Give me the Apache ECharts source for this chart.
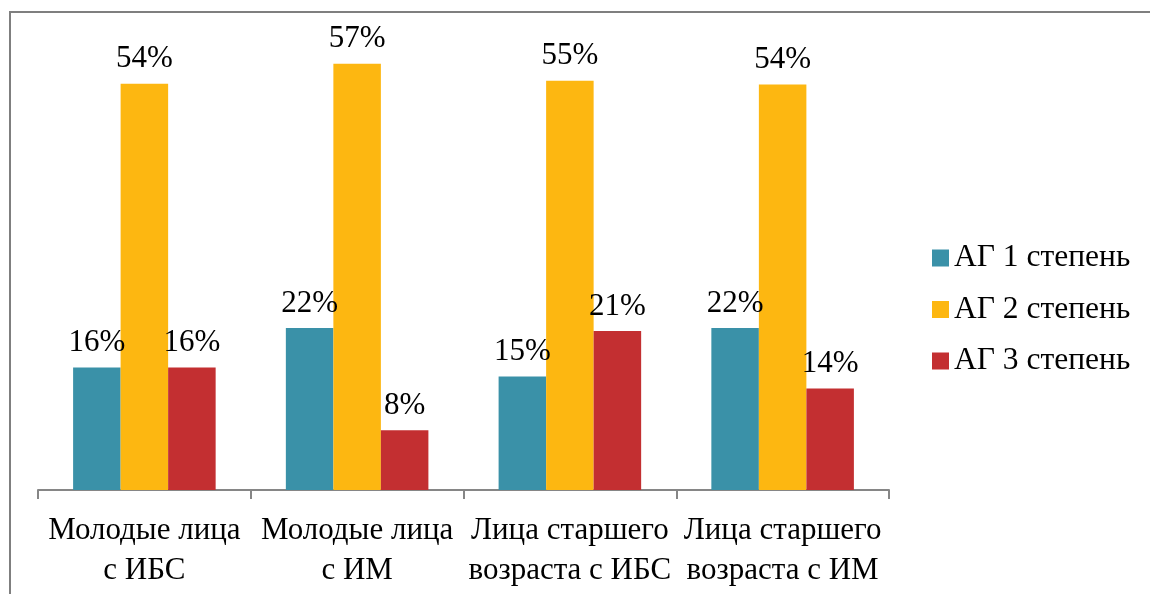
<!DOCTYPE html>
<html>
<head>
<meta charset="utf-8">
<script src="https://cdn.jsdelivr.net/npm/echarts@6/dist/echarts.min.js"></script>
<style>
html,body{margin:0;padding:0;background:#fff;}
#c{width:1150px;height:594px;}
</style>
</head>
<body>
<div id="c"></div>
<script>
const categories = ["Молодые лица\nс ИБС", "Молодые лица\nс ИМ", "Лица старшего\nвозраста с ИБС", "Лица старшего\nвозраста с ИМ"];
const seriesNames = ["АГ 1 степень", "АГ 2 степень", "АГ 3 степень"];
const ag1 = [16.4, 21.7, 15.2, 21.7];
const ag2 = [54.4, 57.1, 54.8, 54.3];
const ag3 = [16.4, 8.0, 21.3, 13.6];
const colors = ["#3A91A8", "#FDB711", "#C32F31"];

const font = "'Liberation Serif', 'DejaVu Serif', serif";
const chart = echarts.init(document.getElementById('c'));
const mk = (name, data, color) => ({
  name: name,
  type: 'bar',
  data: data,
  barGap: '0%',
  barCategoryGap: '33%',
  itemStyle: { color: color },
  label: {
    show: true,
    position: 'top',
    distance: 9,
    color: '#000',
    fontFamily: font,
    fontSize: 31,
    formatter: p => Math.round(p.value) + '%'
  }
});
chart.setOption({
  animation: false,
  backgroundColor: '#fff',
  graphic: [{
    type: 'rect',
    shape: { x: 10, y: 12, width: 1300, height: 800 },
    style: { fill: 'none', stroke: '#7f7f7f', lineWidth: 2 },
    silent: true
  }],
  grid: { left: 38, right: 261, top: 42, bottom: 104 },
  legend: {
    orient: 'vertical',
    left: 932,
    top: 241,
    padding: 0,
    itemWidth: 17,
    itemHeight: 17,
    itemGap: 17.5,
    itemStyle: { borderWidth: 0 },
    icon: 'rect',
    textStyle: { fontFamily: font, fontSize: 31.5, color: '#000', lineHeight: 34 },
    data: seriesNames
  },
  xAxis: {
    type: 'category',
    data: categories,
    axisLine: { lineStyle: { color: '#868686', width: 2 } },
    axisTick: { show: true, length: 9, lineStyle: { color: '#868686', width: 2 } },
    axisLabel: { fontFamily: font, fontSize: 31, color: '#000', lineHeight: 40, margin: 21, interval: 0 }
  },
  yAxis: {
    type: 'value',
    min: 0, max: 60,
    show: false,
    splitLine: { show: false }
  },
  series: [
    mk(seriesNames[0], ag1, colors[0]),
    mk(seriesNames[1], ag2, colors[1]),
    mk(seriesNames[2], ag3, colors[2])
  ]
});
</script>
</body>
</html>
